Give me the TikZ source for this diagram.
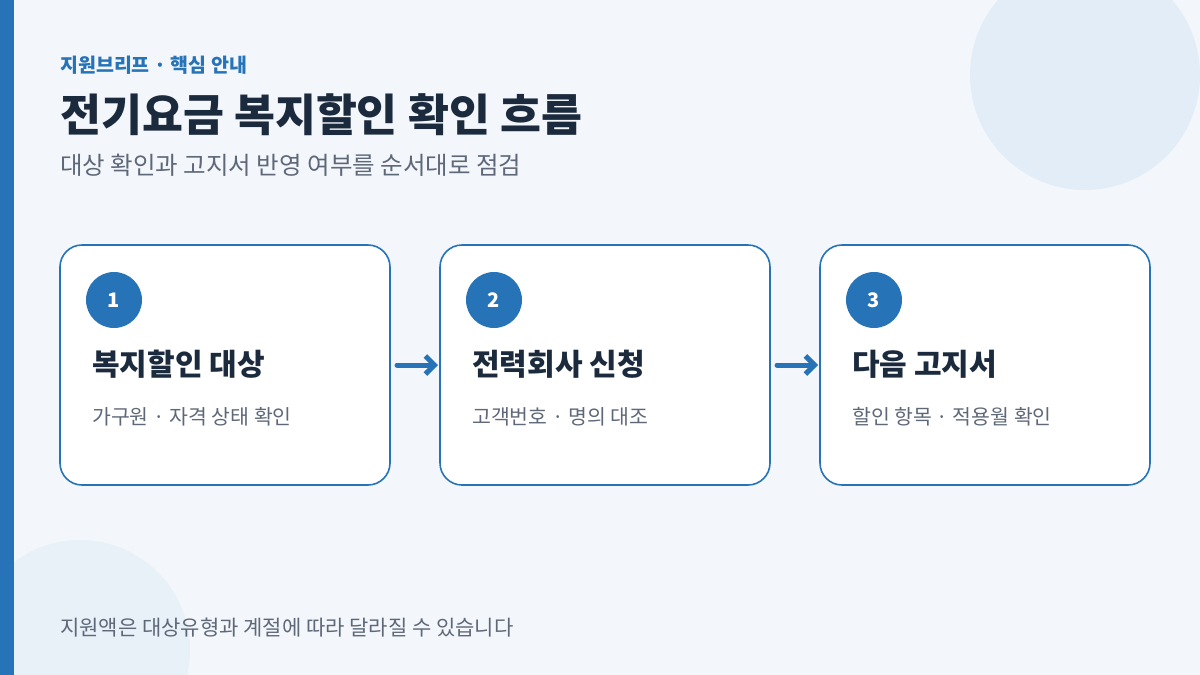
\documentclass[tikz,border=0pt]{standalone}
\usepackage{fontspec}
\setmainfont{Noto Sans CJK KR}
\usetikzlibrary{positioning,arrows.meta}
\definecolor{bgc}{HTML}{F3F7FB}
\definecolor{brand}{HTML}{2673B8}
\definecolor{deco}{HTML}{E3EDF7}
\definecolor{ink}{HTML}{1B2A3D}
\definecolor{muted}{HTML}{5E6878}
\begin{document}
\begin{tikzpicture}[x=1pt,y=-1pt,
    card/.style={draw=brand, line width=1.6pt, fill=white, rounded corners=22pt},
    badge/.style={circle, fill=brand, minimum size=56pt, inner sep=0pt, text=white, font=\fontsize{20}{22}\selectfont\bfseries},
    head/.style={anchor=west, inner sep=0pt, text=ink, font=\fontsize{30}{34}\selectfont\bfseries},
    desc/.style={anchor=west, inner sep=0pt, text=muted, font=\fontsize{20.5}{24}\selectfont},
    flowarrow/.style={-{Straight Barb[length=9pt,width=18pt]}, line width=5pt, draw=brand, line cap=round},
    ]
% background and decoration
\fill[bgc] (0,0) rectangle (1200,675);
\useasboundingbox (0,0) rectangle (1200,675);
\fill[deco] (1085,75) circle (115);
\fill[deco!70!bgc] (80,650) circle (110);
\fill[brand] (0,0) rectangle (14,675);
% header texts
\node[anchor=west, inner sep=0pt, text=brand, font=\fontsize{19.5}{22}\selectfont\bfseries] (kicker) at (60,65) {지원브리프 · 핵심 안내};
\node[anchor=west, inner sep=0pt, text=ink, font=\fontsize{44.5}{48}\selectfont\bfseries] (title) at (60,115) {전기요금 복지할인 확인 흐름};
\node[anchor=west, inner sep=0pt, text=muted, font=\fontsize{24.5}{28}\selectfont] (sub) at (60,165) {대상 확인과 고지서 반영 여부를 순서대로 점검};
% cards
\foreach \i/\x/\h/\d in {1/60/복지할인 대상/가구원 · 자격 상태 확인,
                         2/440/전력회사 신청/고객번호 · 명의 대조,
                         3/820/다음 고지서/할인 항목 · 적용월 확인}{
  \draw[card] (\x,245) rectangle ++(330,240);
  \node[badge] (b\i) at (\x+54,300) {\i};
  \node[head] (h\i) at (\x+32,364) {\h};
  \node[desc] (d\i) at (\x+32,417) {\d};
  \coordinate (l\i) at (\x,365);
  \coordinate (r\i) at (\x+330,365);
}
% connectors
\draw[flowarrow] ([xshift=7pt]r1) -- ([xshift=-2pt]l2);
\draw[flowarrow] ([xshift=7pt]r2) -- ([xshift=-2pt]l3);
% footer
\node[anchor=west, inner sep=0pt, text=muted, font=\fontsize{21}{24}\selectfont] (foot) at (60,628) {지원액은 대상유형과 계절에 따라 달라질 수 있습니다};
\end{tikzpicture}
\end{document}
